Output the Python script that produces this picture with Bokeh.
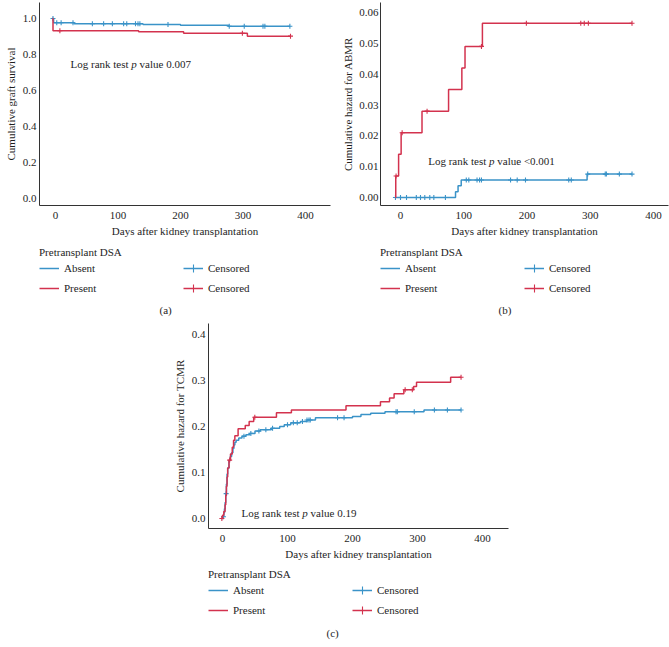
import numpy as np
from bokeh.plotting import figure
from bokeh.models import (Range1d, Legend, LegendItem, Label, FixedTicker,
                          PrintfTickFormatter, Spacer, ColumnDataSource)
from bokeh.layouts import row, column
from bokeh.embed import file_html
from bokeh.resources import INLINE

BLUE = "#3a93c8"
RED = "#d3324e"
FONT = "Liberation Serif"
INK = "#1e1e1e"

x_ticks = [0, 100, 200, 300, 400]

# ---------------- Panel (a): cumulative graft survival ----------------
a_abs_t = [-5, -3, 30, 140, 200, 277, 375]
a_abs_s = [1.000, 0.976, 0.971, 0.967, 0.963, 0.957, 0.957]
a_abs_cens = [-4, 2, 9, 28, 59, 77, 91, 109, 114, 128, 132, 135, 180, 278, 302, 332, 335, 375]
a_pre_t = [-5, -4, 133, 205, 307, 376]
a_pre_s = [1.000, 0.932, 0.926, 0.918, 0.902, 0.902]
a_pre_cens = [7, 299, 376]
a_yticks = [0.0, 0.2, 0.4, 0.6, 0.8, 1.0]

# ---------------- Panel (b): cumulative hazard for ABMR ----------------
b_abs_t = [-8, 87, 91, 96, 295, 366]
b_abs_h = [0.0, 0.0019, 0.0038, 0.0057, 0.0076, 0.0076]
b_abs_cens = [-8, 0, 9.5, 25, 31.6, 38.4, 46.3, 52.7, 71, 104, 108, 121, 125, 128,
              174, 184.5, 197.6, 266, 270, 296, 323.7, 325.5, 346, 366]
b_pre_t = [-8, -7.5, -3, 1, 34, 76, 97, 102, 129.5, 366]
b_pre_h = [0.0, 0.007, 0.014, 0.021, 0.028, 0.035, 0.042, 0.049, 0.0565, 0.0565]
b_pre_cens = [-7, 2.6, 42, 128, 199, 285, 290.5, 297, 366]
b_yticks = [0.00, 0.01, 0.02, 0.03, 0.04, 0.05, 0.06]

# ---------------- Panel (c): cumulative hazard for TCMR ----------------
c_abs_t = [-1.5, 0, 2, 3, 4, 5, 6, 7, 8, 10, 12, 14, 16, 17.5, 19, 21, 25, 30, 36, 42,
           50, 58, 75, 88, 95, 105, 120, 130, 143, 200, 213, 228, 250, 310, 367]
c_abs_h = [0.0, 0.004, 0.012, 0.021, 0.035, 0.054, 0.075, 0.097, 0.110, 0.126, 0.135,
           0.143, 0.152, 0.160, 0.166, 0.170, 0.175, 0.179, 0.182, 0.185, 0.190, 0.193,
           0.196, 0.200, 0.204, 0.208, 0.211, 0.214, 0.219, 0.222, 0.226, 0.229, 0.232,
           0.236, 0.236]
c_abs_cens = [1.5, 5.6, 33, 43.6, 56, 66.7, 77, 100, 109, 115, 123, 130, 133, 135, 177,
              187, 267, 269, 295, 326, 346, 367]
c_pre_t = [-1, 0, 2, 4, 5, 6, 7, 8, 10, 12.3, 15, 17, 19, 24, 35, 41, 48, 83, 106, 190,
           243, 257, 264, 279, 294, 298.5, 351, 367]
c_pre_h = [0.0, 0.007, 0.015, 0.030, 0.050, 0.070, 0.090, 0.110, 0.127, 0.140, 0.155,
           0.170, 0.180, 0.195, 0.202, 0.211, 0.220, 0.230, 0.236, 0.245, 0.2536, 0.262,
           0.271, 0.280, 0.287, 0.296, 0.307, 0.307]
c_pre_cens = [-1, 11, 49.7, 281, 292, 367]
c_yticks = [0.0, 0.1, 0.2, 0.3, 0.4]

legend_title = "Pretransplant DSA"
group_labels = ["Absent", "Present"]
censor_label = "Censored"
x_label = "Days after kidney transplantation"


def value_at(ts, vs, t):
    i = int(np.searchsorted(np.asarray(ts, float), t, side="right")) - 1
    return vs[max(i, 0)]


def sources(ts, vs, cens):
    line = ColumnDataSource(dict(t=ts, v=vs))
    marks = ColumnDataSource(dict(t=cens, v=[value_at(ts, vs, c) for c in cens]))
    return line, marks


def add_series(p, src_line, src_marks, color, visible=True):
    r = p.step("t", "v", source=src_line, mode="after", line_color=color,
               line_width=1.5, visible=visible)
    c = p.scatter("t", "v", source=src_marks, marker="cross", size=5,
                  line_color=color, line_width=1.1, visible=visible)
    return r, c


def make_chart(width, height, xr, yr, mbl, mbr, mbt, mbb, ylabel, yticks, yfmt,
               s_abs, s_pre, txt_xy, pval, y_lab_standoff, y_axlab_standoff):
    p = figure(width=width, height=height, x_range=Range1d(*xr), y_range=Range1d(*yr),
               output_backend="svg", toolbar_location=None,
               min_border_left=mbl, min_border_right=mbr, min_border_top=mbt,
               min_border_bottom=mbb)
    p.grid.visible = False
    p.outline_line_color = None

    for ax in (p.xaxis[0], p.yaxis[0]):
        ax.major_tick_line_color = None
        ax.minor_tick_line_color = None
        ax.major_tick_out = 0
        ax.major_tick_in = 0
        ax.minor_tick_out = 0
        ax.minor_tick_in = 0
        ax.axis_line_color = "#333333"
        ax.axis_line_width = 1
        ax.major_label_text_font = FONT
        ax.major_label_text_font_size = "11px"
        ax.major_label_text_color = INK
        ax.axis_label_text_font = FONT
        ax.axis_label_text_font_size = "11px"
        ax.axis_label_text_font_style = "normal"
        ax.axis_label_text_color = INK

    p.xaxis.ticker = FixedTicker(ticks=x_ticks)
    p.xaxis.axis_label = x_label
    p.xaxis.major_label_standoff = 6
    p.xaxis.axis_label_standoff = 3

    p.yaxis.ticker = FixedTicker(ticks=yticks)
    p.yaxis.formatter = PrintfTickFormatter(format=yfmt)
    p.yaxis.axis_label = ylabel
    p.yaxis.major_label_standoff = y_lab_standoff
    p.yaxis.axis_label_standoff = y_axlab_standoff

    add_series(p, *s_abs, BLUE)
    add_series(p, *s_pre, RED)

    tx, ty = txt_xy
    common = dict(x=tx, y=ty, text_baseline="middle", text_font=FONT,
                  text_font_size="11px", text_color=INK)
    p.add_layout(Label(text="Log rank test", **common))
    p.add_layout(Label(text="p", x_offset=60.8, text_font_style="italic", **common))
    p.add_layout(Label(text="value " + pval, x_offset=69.1, **common))
    return p


def make_legend(width, height, s_abs, s_pre, leg_xy, caption, cap_xy):
    # frame of this figure is aligned (by the column layout) with the chart above it
    q = figure(width=width, height=height, x_range=Range1d(0, 1), y_range=Range1d(0, 1),
               output_backend="svg", toolbar_location=None, min_border=0,
               x_axis_location=None, y_axis_location=None)
    q.grid.visible = False
    q.outline_line_color = None
    r_abs, c_abs = add_series(q, *s_abs, BLUE, visible=False)
    r_pre, c_pre = add_series(q, *s_pre, RED, visible=False)
    legend = Legend(
        items=[LegendItem(label=group_labels[0], renderers=[r_abs]),
               LegendItem(label=group_labels[1], renderers=[r_pre]),
               LegendItem(label=censor_label, renderers=[r_abs, c_abs]),
               LegendItem(label=censor_label, renderers=[r_pre, c_pre])],
        orientation="vertical", nrows=2, location=leg_xy, margin=0, padding=0,
        spacing=0, border_line_color=None, background_fill_alpha=0,
        glyph_width=20, glyph_height=20, label_height=20, label_width=119,
        label_standoff=5, title=legend_title, title_standoff=-1,
        title_text_font=FONT, title_text_font_size="11px",
        title_text_font_style="normal", title_text_color=INK,
        label_text_font=FONT, label_text_font_size="11px", label_text_color=INK,
    )
    q.add_layout(legend)
    cx, cy = cap_xy
    q.add_layout(Label(x=cx, y=cy, x_units="screen", y_units="screen", text=caption,
                       text_baseline="middle", text_font=FONT, text_font_size="11px",
                       text_color=INK))
    return q


sa_abs = sources(a_abs_t, a_abs_s, a_abs_cens)
sa_pre = sources(a_pre_t, a_pre_s, a_pre_cens)
sb_abs = sources(b_abs_t, b_abs_h, b_abs_cens)
sb_pre = sources(b_pre_t, b_pre_h, b_pre_cens)
sc_abs = sources(c_abs_t, c_abs_h, c_abs_cens)
sc_pre = sources(c_pre_t, c_pre_h, c_pre_cens)

fa = make_chart(338, 245, (-25.6, 440.0), (-0.0389, 1.0889), 39, 8, 2, 40,
                "Cumulative graft survival", a_yticks, "%.1f", sa_abs, sa_pre,
                (24, 0.75), "0.007", 3, 3)
la = make_legend(338, 75, sa_abs, sa_pre, (0, 22), "(a)", (120, 11))

fb = make_chart(331, 245, (-31.62, 423.7), (-0.00259, 0.06324), 42, 1, 2, 40,
                "Cumulative hazard for ABMR", b_yticks, "%.2f", sb_abs, sb_pre,
                (43.8, 0.0117), "<0.001", 2, 2)
lb = make_legend(331, 75, sb_abs, sb_pre, (0, 22), "(b)", (118, 11))

fc = make_chart(348, 248, (-21.54, 440.0), (-0.0217, 0.4239), 38, 10, 3, 40,
                "Cumulative hazard for TCMR", c_yticks, "%.1f", sc_abs, sc_pre,
                (29.2, 0.011), "0.19", 3, 3)
lc = make_legend(348, 79, sc_abs, sc_pre, (0, 27), "(c)", (118, 15))

layout = column(row(column(fa, la), column(fb, lb)),
                row(Spacer(width=170, height=327), column(fc, lc)))

open("out.html", "w").write(file_html(layout, INLINE))
